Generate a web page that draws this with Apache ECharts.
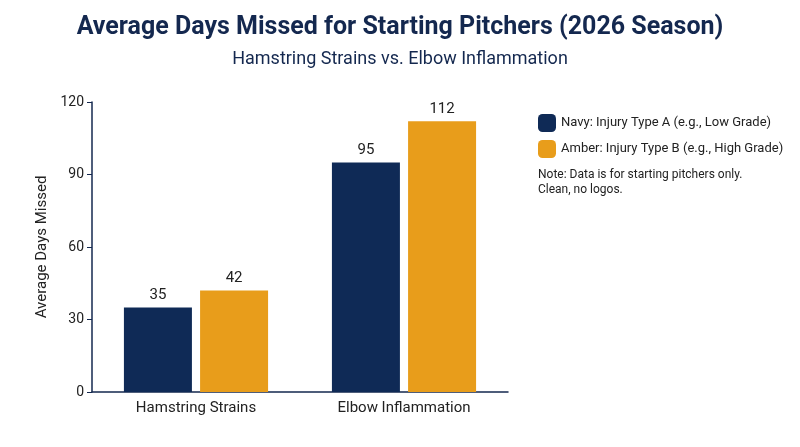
<!DOCTYPE html>
<html>
<head>
<meta charset="utf-8">
<script src="https://cdn.jsdelivr.net/npm/echarts@6/dist/echarts.min.js"></script>
<style>html,body{margin:0;background:#fff}#chart{width:800px;height:447px}</style>
</head>
<body>
<div id="chart"></div>
<script>
var categories = ['Hamstring Strains', 'Elbow Inflammation'];
var navyValues = [35, 95];
var amberValues = [42, 112];
var seriesNames = ['Navy: Injury Type A (e.g., Low Grade)', 'Amber: Injury Type B (e.g., High Grade)'];
var noteLines = ['Note: Data is for starting pitchers only.', 'Clean, no logos.'];

var chart = echarts.init(document.getElementById('chart'));
var font = 'Roboto';
chart.setOption({
	title: [{
		text: 'Average Days Missed for Starting Pitchers (2026 Season)',
		subtext: 'Hamstring Strains vs. Elbow Inflammation',
		left: 'center', top: 10, itemGap: 10,
		textStyle: { fontFamily: font, fontSize: 25, fontWeight: 'bold', color: '#14284f' },
		subtextStyle: { fontFamily: font, fontSize: 18, color: '#14284f' }
	}, {
		text: noteLines.join('\n'),
		left: 533, top: 162,
		textStyle: { fontFamily: font, fontSize: 12, fontWeight: 'normal', color: '#222', lineHeight: 15 }
	}],
	legend: {
		orient: 'vertical', left: 533, top: 109, itemWidth: 18, itemHeight: 18, itemGap: 8,
		data: seriesNames,
		textStyle: { fontFamily: font, fontSize: 13, color: '#222' }
	},
	grid: { left: 92, right: 292, top: 102, bottom: 55 },
	xAxis: {
		type: 'category', data: categories,
		axisLine: { lineStyle: { color: '#14284f', width: 1.5 } },
		axisTick: { show: false },
		axisLabel: { fontFamily: font, fontSize: 15, color: '#222', margin: 9 }
	},
	yAxis: {
		type: 'value', min: 0, max: 120, interval: 30,
		name: 'Average Days Missed', nameLocation: 'middle', nameGap: 42,
		nameTextStyle: { fontFamily: font, fontSize: 15, color: '#222' },
		axisLine: { show: true, lineStyle: { color: '#14284f', width: 1.5 } },
		axisTick: { show: true, length: 5 },
		splitLine: { show: false },
		axisLabel: { fontFamily: font, fontSize: 14, color: '#222' }
	},
	series: [{
		name: seriesNames[0], type: 'bar', data: navyValues, barWidth: 68, barGap: '12%',
		itemStyle: { color: '#0f2a56' },
		label: { show: true, position: 'top', fontFamily: font, fontSize: 15, color: '#222' }
	}, {
		name: seriesNames[1], type: 'bar', data: amberValues, barWidth: 68,
		itemStyle: { color: '#e89d1b' },
		label: { show: true, position: 'top', fontFamily: font, fontSize: 15, color: '#222' }
	}]
});
</script>
</body>
</html>
